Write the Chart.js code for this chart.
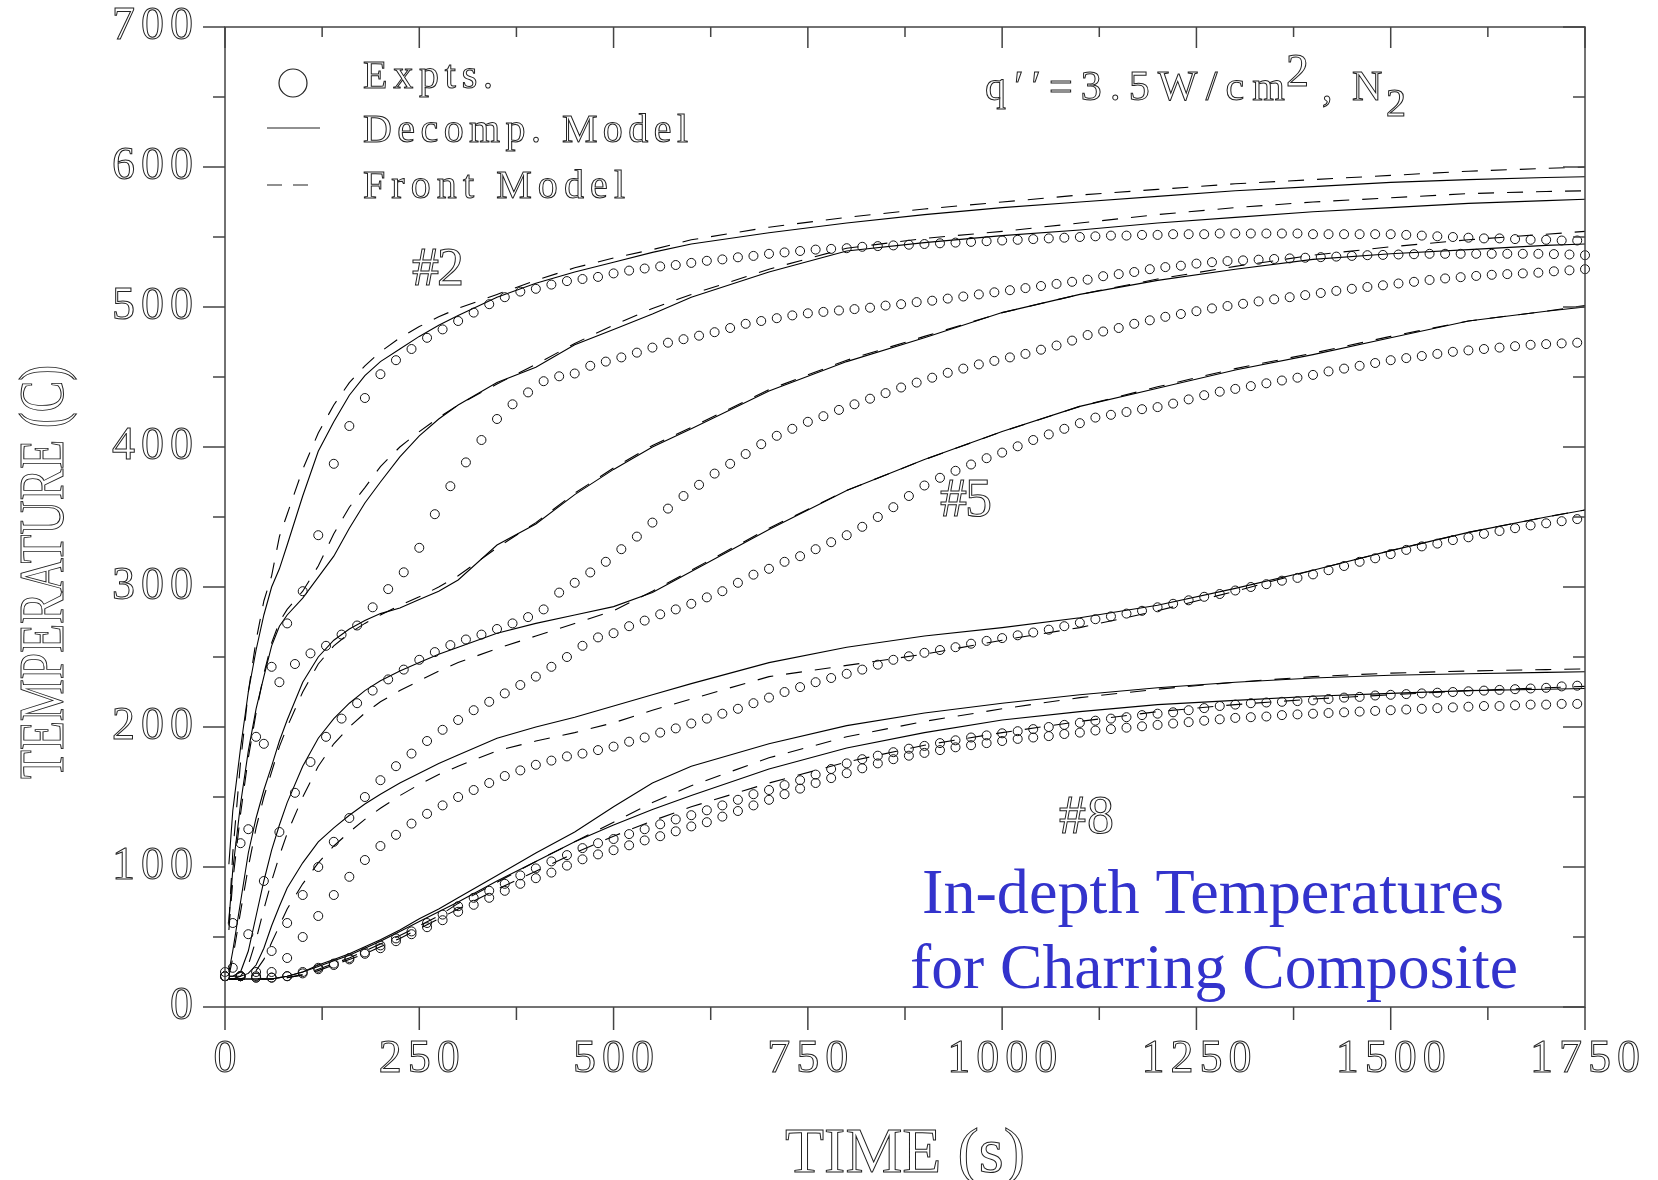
<!DOCTYPE html>
<html><head><meta charset="utf-8">
<script src="https://cdn.jsdelivr.net/npm/chart.js@4"></script>
<style>html,body{margin:0;padding:0;background:#fff;}canvas{display:block;}</style>
</head><body>
<canvas id="c" width="1658" height="1180" style="width:1658px;height:1180px"></canvas>
<script>
// ---------- DATA ----------
const xTicks = [0, 250, 500, 750, 1000, 1250, 1500, 1750];
const yTicks = [0, 100, 200, 300, 400, 500, 600, 700];

// sampling times of the thermocouple readings (two interleaved clocks)
const expTimeA = [0,20,40,60,80,100,120,140,160,180,200,220,240,260,280,300,320,340,360,380,400,420,440,460,480,500,520,540,560,580,600,620,640,660,680,700,720,740,760,780,800,820,840,860,880,900,920,940,960,980,1000,1020,1040,1060,1080,1100,1120,1140,1160,1180,1200,1220,1240,1260,1280,1300,1320,1340,1360,1380,1400,1420,1440,1460,1480,1500,1520,1540,1560,1580,1600,1620,1640,1660,1680,1700,1720,1740];
const expTimeB = [10,30,50,70,90,110,130,150,170,190,210,230,250,270,290,310,330,350,370,390,410,430,450,470,490,510,530,550,570,590,610,630,650,670,690,710,730,750,770,790,810,830,850,870,890,910,930,950,970,990,1010,1030,1050,1070,1090,1110,1130,1150,1170,1190,1210,1230,1250,1270,1290,1310,1330,1350,1370,1390,1410,1430,1450,1470,1490,1510,1530,1550,1570,1590,1610,1630,1650,1670,1690,1710,1730,1750];

const exp2 = [25,117,193,243,274,297,337,388,415,435,452,462,470,478,484,490,496,502,507,511,513,516,518.5,520,521.5,524,526,527.5,529,530,531.5,533,534,535.5,536.5,538,539,540,541,541.5,542,543,543.5,544,544.5,545,545.5,546,546.5,547,547.5,548,548.5,549,549.5,550,550.5,551,551,551.5,551.5,552,552,552,552.5,552.5,552.5,552.5,552.5,552.5,552,552,552,552,552,552,551.5,551,550.5,550,549.5,549,549,548.5,548,548,547.5,547.5];
const exp3 = [60,127,188,232,245,252.6,258,266,272.5,285.5,298.5,310.5,328,352,372,389,405,420,430.5,439,447,450.5,452.5,458,461,464,467.4,471,474.5,477,479.5,482,485,488,490,492,494,495.5,496.5,497.5,498.5,499.5,501,502,503.5,504.5,506,507.5,509,510.5,512,513.5,515,516.5,518,519.5,522,523.5,525,527,528.5,529.5,531,532,532.8,533.3,533.8,534.3,534.7,535.2,535.6,536,536.5,537,537.2,537.5,537.7,538,538,538,538,538,538,538,538,537.8,537.5,537];
const exp4 = [28,52,90,125,153,175,193,206,217,226,234,241,248,253.5,258.5,262.5,266,270,274,278.5,284,296,303,310.4,318,327,336,346,356,365,373,381,388,395,402,408,413,418,422,426.5,430.5,434.5,438.5,442.5,446,449.5,453,456,459,461.5,464,466.5,469.5,472.5,476,480,482.5,485,488,490.5,493,495,497,499,500.7,502.3,504,505.5,507,508.5,510,511.5,513,514.3,515.5,516.8,518,519.3,520.4,521.3,522.2,523,523.5,524,524.5,525.5,526.2,527];
const exp5 = [22,22,25,40,60,80,100,118,135,150,162,172,181,190,198,205,212,218,224,230,236,243,250,258,264,267,272,276,280.5,284,288,292.6,297,303,308.8,313,318,322,327,332,337,343,350,357,365,372.5,378,383,387.5,392,396,400.5,405,409,413,417,421,423,425,427,428.5,431,434,437,439.5,441.5,443.5,445.5,447.5,449.5,451.5,454,456,458,460,462,463.5,465,466.5,468,469,470,471,472,473,473.5,474,474.5];
const exp6 = [22,22,22,25,35,50,65,80,93,105,115,123,131,138,144,150,155,160,165,169,173,176,179,181,183.5,186,189.5,192.5,196,199,202.5,206,209.5,213,217,221,225,228.5,232,235,238,241,244.5,248,250.5,253,255,257,259.5,261.5,263.5,265.5,267.5,269.5,272,274.5,277,279,281,283,285.5,288,290.5,293,295,297.5,300,302,304.5,306.5,309,312,315,318,320.5,323.5,326.5,329,331,333.5,335.5,338,340,342,344,345.5,347,348.5];
const exp7 = [22,22,21,21,22,25,28,31,35,39,44,49,54,60,66,72,78,83,88,94,99,104,108.5,113.5,117,120,123.5,127,130.5,134,137,140.5,144,148,152,155,158.5,162,166,170,174,177,179.5,182,184.5,186.5,188.5,190.5,192.5,194,195.5,197,198.5,200,201.5,203,204.5,206,207,208.5,209.5,210.5,212,213.5,215,216,217,217.5,218,218.5,219,220,221,221.5,222.5,223,223.5,224,224.5,225,225.5,226,226.5,227,227.5,228,229,229.5];
const exp8 = [22,22,21,21,22,24,27,30,34,38,42,47,52,57,62,68,73,78,83,88,92,96,101,105.5,109,112,115.5,119,122,125.5,129,132,136,140,144,148,152,156,160,163.5,167,170.5,174,177,179.5,181.5,183.5,185.5,187,188.5,190,191.5,192.5,193.5,195,196,197.5,198.5,199.5,200.5,201.5,202.5,203.5,204.5,205.5,206.5,207,207.5,208.5,209,209.5,210,210.5,211,211.5,212,212.5,213,213.5,214,214.5,215,215,215.5,216,216,216.5,216.5];

const modelTime = [5,10,20,30,40,50,60,70,80,100,120,140,160,180,200,225,250,275,300,350,400,450,500,550,600,700,800,900,1000,1100,1200,1300,1400,1500,1600,1700,1750];

const dec2 = [102,140,185,225,255,280,300,313,330,365,397,418,437,451,461,470,479,487,494,507,517,525,532,539,545,553,560,566,571,575,579,583,586,589,591,592.5,593];
const fr2  = [60,110,175,225,262,290,308,336,352,384,410,430,446,458,468,478,486,493,499,509,519,528,535,541,548,557,564,570,575,580,584,588,591,594,597,599,600];
const dec3 = [61,98,145,183,213,236,258,272,280,292,307,322,342,360,375,393,408,420,430,446,457,473,484,495,507,525,540,546,551,555,560,564,568,571,574,576,577];
const fr3  = [55,90,138,178,210,238,260,275,284,297,315,338,357,371,386,400,411,421,430,445,459,474,487,499,509,527,542,549,554,560,566,571,575,578,581,582.5,583];
const dec4 = [25,40,75,110,135,155,172,190,205,232,250,262,270,276,281,285,291,297,305,330,345,366,384,400,413,440,461,478,496,509,519,527,534,538,541,544,545];
const fr4  = [22,35,68,100,128,150,168,186,200,225,245,258,267,274,280,287,293,300,308,328,346,367,385,401,414,441,462,479,496,509,520,529,537,543,548,552,554];
const dec5 = [22,22,25,40,65,90,112,130,146,172,192,206,217,226,233,240,246,252,257,267,274,280,286,296,311,341,369,391,411,429,442,455,466,478,490,497,500];
const fr5  = [20,20,22,30,48,70,90,108,124,150,172,188,200,210,218,226,233,240,246,256,265,274,283,297,312,342,369,391,411,429,443,456,467,479,490,497,501];
const dec6 = [22,22,22,24,30,42,58,72,85,103,118,128,137,145,152,160,167,174,180,192,200,207,215,223,231,246,257,265,271,278,287,299,312,326,339,350,355];
const fr6  = [20,20,20,22,26,34,46,58,70,88,103,115,125,134,142,151,159,166,172,183,190,196,203,212,220,236,244,252,262,271,283,297,312,326,339,350,355];
const dec7 = [20,20,20,20,20,20,20,21,22,25,30,34,38,43,48,55,63,70,78,94,110,125,143,160,172,188,201,210,217,223,228,232,235,237,238,239,239.5];
const fr7  = [20,20,20,20,20,20,20,20,21,23,27,31,35,40,45,51,58,65,74,89,104,118,132,146,158,178,193,204,213,221,227,232,236,238.5,240,241,241.5];
const dec8 = [20,20,20,20,20,20,20,21,22,25,29,33,37,42,47,54,61,68,75,90,104,118,130,141,151,170,185,196,205,211,216,219,222,224,226,227,227.5];
const fr8  = [20,20,20,20,20,20,20,20,21,23,26,30,34,38,43,49,56,63,70,84,97,110,122,133,143,160,175,187,196,204,211,216,220,223,226,228,229];

const legendLabels = ['Expts.', 'Decomp. Model', 'Front Model'];
const curveLabels = ['#2', '#5', '#8'];

// ---------- BUILD ----------
const pts = (xs, ys) => xs.map((t, i) => ({x: t, y: ys[i]}));
const expSeries = [[expTimeA, exp2], [expTimeB, exp3], [expTimeB, exp4], [expTimeA, exp5], [expTimeA, exp6], [expTimeA, exp7], [expTimeA, exp8]];
const expSets = expSeries.map(([tt, s], i) => ({
  label: 'Expts. ' + (i + 2), data: pts(tt, s), showLine: false,
  pointRadius: 4.5, pointBorderWidth: 1, pointBorderColor: '#111',
  pointBackgroundColor: 'rgba(0,0,0,0)', clip: 8
}));
const decSets = [dec2, dec3, dec4, dec5, dec6, dec7, dec8].map((s, i) => ({
  label: 'Decomp. ' + (i + 2), data: pts(modelTime, s), showLine: true, pointRadius: 0,
  borderColor: '#000', borderWidth: 1.1, tension: 0
}));
const frSets = [fr2, fr3, fr4, fr5, fr6, fr7, fr8].map((s, i) => ({
  label: 'Front ' + (i + 2), data: pts(modelTime, s), showLine: true, pointRadius: 0,
  borderColor: '#000', borderWidth: 1.1, borderDash: [16, 13], tension: 0
}));

const SERIF = '"Liberation Serif", "DejaVu Serif", serif';

function spaced(ctx, text, x, y, targetW, align) {
  const ws = [...text].map(ch => ctx.measureText(ch).width);
  const nat = ws.reduce((a, b) => a + b, 0);
  const n = ws.length;
  const ls = n > 1 ? (targetW - nat) / (n - 1) : 0;
  let sx = align === 'center' ? x - targetW / 2 : align === 'right' ? x - targetW : x;
  ctx.textAlign = 'left';
  [...text].forEach((ch, i) => { ctx.strokeText(ch, sx, y); sx += ws[i] + ls; });
}
function scaled(ctx, text, x, y, targetW, fill) {
  const w = ctx.measureText(text).width;
  ctx.save(); ctx.translate(x, y); ctx.scale(targetW / w, 1);
  ctx.textAlign = 'center';
  if (fill) ctx.fillText(text, 0, 0); else ctx.strokeText(text, 0, 0);
  ctx.restore();
}

const decor = {
  id: 'decor',
  beforeDraw(chart) { try { chart.ctx.letterSpacing = '6px'; } catch (e) {} },
  afterDraw(chart) {
    const {ctx, chartArea: a, scales: {x, y}} = chart;
    ctx.save();
    try { ctx.letterSpacing = '0px'; } catch (e) {}
    // frame and ticks
    ctx.strokeStyle = '#444'; ctx.lineWidth = 1.5;
    ctx.strokeRect(a.left, a.top, a.right - a.left, a.bottom - a.top);
    ctx.beginPath();
    for (let v = 0; v <= 1750; v += 125) {
      const px = x.getPixelForValue(v), major = v % 250 === 0;
      ctx.moveTo(px, a.bottom); ctx.lineTo(px, a.bottom + (major ? 23 : 13));
      ctx.moveTo(px, a.top); ctx.lineTo(px, a.top + (major ? 21 : 10));
    }
    for (let v = 0; v <= 700; v += 50) {
      const py = y.getPixelForValue(v), major = v % 100 === 0;
      ctx.moveTo(a.left, py); ctx.lineTo(a.left - (major ? 22 : 12), py);
      ctx.moveTo(a.right, py); ctx.lineTo(a.right - (major ? 22 : 12), py);
    }
    ctx.stroke();

    ctx.strokeStyle = '#222'; ctx.lineWidth = 1; ctx.textBaseline = 'alphabetic';
    // axis titles
    ctx.font = '64px ' + SERIF;
    scaled(ctx, 'TIME (s)', 905, 1172, 240);
    ctx.save(); ctx.translate(63, 572); ctx.rotate(-Math.PI / 2);
    scaled(ctx, 'TEMPERATURE (C)', 0, 0, 414);
    ctx.restore();

    // legend
    ctx.strokeStyle = '#222'; ctx.lineWidth = 1.2;
    ctx.beginPath(); ctx.arc(293, 83, 14, 0, Math.PI * 2); ctx.stroke();
    ctx.beginPath(); ctx.moveTo(267, 128); ctx.lineTo(320, 128); ctx.stroke();
    ctx.beginPath(); ctx.moveTo(267, 185); ctx.lineTo(282, 185); ctx.moveTo(293, 185); ctx.lineTo(308, 185); ctx.stroke();
    ctx.strokeStyle = '#222'; ctx.lineWidth = 1;
    ctx.font = '40px ' + SERIF;
    spaced(ctx, legendLabels[0], 363, 88, 130, 'left');
    spaced(ctx, legendLabels[1], 363, 142, 325, 'left');
    spaced(ctx, legendLabels[2], 363, 198, 262, 'left');

    // heat flux label
    ctx.font = '42px ' + SERIF;
    spaced(ctx, 'q\u2032\u2032=3.5W/cm', 985, 100, 300, 'left');
    ctx.font = '46px ' + SERIF;
    spaced(ctx, '2', 1286, 86, 24, 'left');
    ctx.font = '42px ' + SERIF;
    spaced(ctx, ',', 1322, 100, 10, 'left');
    spaced(ctx, 'N', 1352, 100, 30, 'left');
    ctx.font = '40px ' + SERIF;
    spaced(ctx, '2', 1386, 116, 22, 'left');

    // curve labels
    ctx.font = '54px ' + SERIF;
    spaced(ctx, curveLabels[0], 412, 285, 52, 'left');
    spaced(ctx, curveLabels[1], 940, 516, 52, 'left');
    spaced(ctx, curveLabels[2], 1059, 833, 55, 'left');

    // blue annotation
    ctx.fillStyle = 'rgb(51,51,204)';
    ctx.font = '63px ' + SERIF;
    scaled(ctx, 'In-depth Temperatures', 1213, 913, 582, true);
    scaled(ctx, 'for Charring Composite', 1214, 988, 608, true);
    ctx.restore();
  }
};

const tickFont = {family: SERIF, size: 46, lineHeight: 1};
new Chart(document.getElementById('c'), {
  type: 'scatter',
  data: {datasets: [...expSets, ...decSets, ...frSets]},
  options: {
    responsive: false, animation: false, devicePixelRatio: 1, events: [],
    layout: {padding: {top: 26, right: 73, left: 0, bottom: 0}},
    plugins: {legend: {display: false}, tooltip: {enabled: false}, title: {display: false}},
    scales: {
      x: {
        type: 'linear', min: 0, max: 1750,
        afterBuildTicks: s => { s.ticks = xTicks.map(v => ({value: v})); },
        afterFit: s => { s.height = 173; },
        grid: {display: false, drawTicks: true, tickLength: 23},
        border: {display: false},
        ticks: {font: tickFont, color: 'rgba(0,0,0,0)', textStrokeColor: '#222', textStrokeWidth: 1, padding: 7, labelOffset: 3, maxRotation: 0, autoSkip: false,
          callback: v => String(v)}
      },
      y: {
        type: 'linear', min: 0, max: 700,
        afterBuildTicks: s => { s.ticks = yTicks.map(v => ({value: v})); },
        afterFit: s => { s.width = 225; },
        grid: {display: false, drawTicks: true, tickLength: 22},
        border: {display: false},
        ticks: {font: tickFont, color: 'rgba(0,0,0,0)', textStrokeColor: '#222', textStrokeWidth: 1, padding: 4, autoSkip: false,
          callback: v => String(v)}
      }
    }
  },
  plugins: [decor]
});
</script>
</body></html>
